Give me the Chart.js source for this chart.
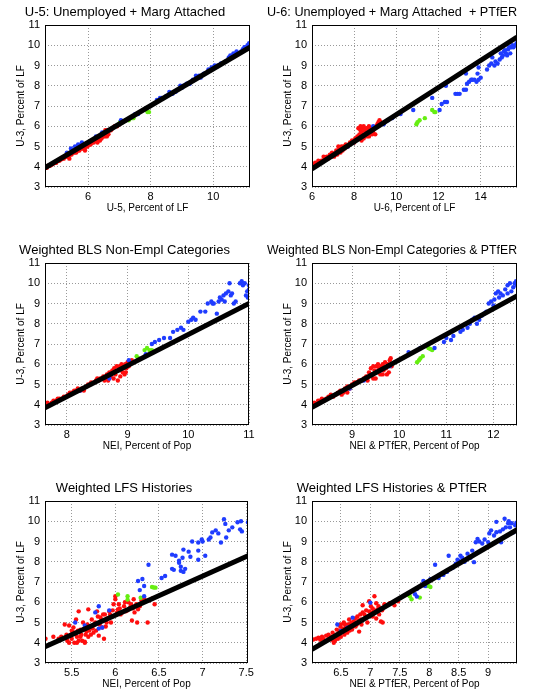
<!DOCTYPE html>
<html>
<head>
<meta charset="utf-8">
<script src="https://cdn.jsdelivr.net/npm/chart.js@4.4.1/dist/chart.umd.min.js"></script>
<style>
  html, body { margin: 0; padding: 0; background: #fff; overflow: hidden; }
  body { width: 547px; height: 694px; position: relative; }
  .panel { position: absolute; }
</style>
</head>
<body>
<div class="panel" style="left:0;top:0"><canvas id="c1" width="294" height="218"></canvas></div>
<div class="panel" style="left:267px;top:0"><canvas id="c2" width="295" height="218"></canvas></div>
<div class="panel" style="left:0;top:238px"><canvas id="c3" width="294" height="218"></canvas></div>
<div class="panel" style="left:267px;top:238px"><canvas id="c4" width="295" height="218"></canvas></div>
<div class="panel" style="left:0;top:476px"><canvas id="c5" width="294" height="218"></canvas></div>
<div class="panel" style="left:267px;top:476px"><canvas id="c6" width="295" height="218"></canvas></div>
<script>

// ---- data, [x, y] pairs; y is U-3 (percent of LF) ----

// U-5
var p1Red = [[4.62,4.0],[4.68,3.95],[4.72,4.05],[4.78,4.05],[4.83,4.1],[4.88,4.15],[4.93,4.2],[4.98,4.2],[5.03,4.3],[5.08,4.3],[5.12,4.35],[5.18,4.4],[5.22,4.4],[5.27,4.5],[5.32,4.5],[5.37,4.5],[5.42,4.6],[5.47,4.6],[5.52,4.7],[5.57,4.7],[5.62,4.7],[5.67,4.8],[5.72,4.8],[5.78,4.9],[5.83,4.9],[5.88,4.9],[5.93,5.0],[5.98,5.0],[6.03,5.1],[6.08,5.1],[6.13,5.2],[6.18,5.2],[6.23,5.3],[6.28,5.3],[6.33,5.4],[6.38,5.3],[6.43,5.4],[6.48,5.5],[6.53,5.5],[6.58,5.6],[6.63,5.8],[6.55,5.8],[6.48,5.6],[6.68,5.8],[6.73,5.8],[6.78,5.9],[6.85,6.0],[6.93,6.0],[7.0,6.1],[6.4,5.4],[6.6,5.5],[6.65,5.6],[6.3,5.2],[5.9,4.8],[5.4,4.4]];
var p1Green = [[7.02,6.2],[7.1,6.2],[7.2,6.3],[7.3,6.3],[7.4,6.4],[7.45,6.4],[7.85,6.8],[7.9,6.7],[7.95,6.7]];
var p1Blue = [[5.32,4.7],[5.45,4.9],[5.58,5.0],[5.68,5.1],[5.8,5.2],[6.25,5.5],[6.45,5.7],[7.05,6.3],[7.5,6.6],[7.6,6.6],[8.2,7.3],[8.3,7.4],[8.35,7.4],[8.5,7.5],[8.7,7.6],[8.8,7.7],[8.95,8.0],[9.05,8.0],[9.15,8.1],[9.25,8.1],[9.35,8.3],[9.45,8.5],[9.55,8.5],[9.6,8.4],[9.7,8.6],[9.85,8.8],[9.95,8.9],[10.05,9.0],[10.15,9.0],[10.25,9.1],[10.4,9.2],[10.5,9.4],[10.55,9.5],[10.65,9.6],[10.75,9.7],[10.8,9.6],[10.9,9.7],[10.95,9.8],[11.0,9.9],[11.05,9.9],[11.1,10.0],[11.15,10.1],[10.0,8.9],[9.0,7.9],[8.6,7.7]];
var p1Fit = [[4.62,3.95],[11.18,9.9]];

// U-6
var p2Red = [[6.0,4.0],[6.05,4.1],[6.15,4.2],[6.2,4.1],[6.3,4.3],[6.35,4.2],[6.45,4.3],[6.55,4.5],[6.6,4.4],[6.7,4.5],[6.75,4.4],[6.85,4.6],[6.9,4.5],[6.95,4.7],[7.05,4.5],[7.1,4.6],[7.15,4.8],[7.2,4.6],[7.25,5.0],[7.3,4.9],[7.35,4.7],[7.4,5.0],[7.45,4.8],[7.5,5.0],[7.55,4.9],[7.6,5.1],[7.7,5.0],[7.8,5.2],[7.9,5.3],[8.0,5.2],[8.05,5.4],[8.15,5.5],[8.2,5.9],[8.25,5.6],[8.3,5.8],[8.3,6.0],[8.35,5.7],[8.4,5.9],[8.45,6.0],[8.5,5.8],[8.55,5.6],[8.6,5.9],[8.65,5.7],[8.7,6.0],[8.75,5.8],[8.8,5.9],[8.85,5.6],[8.9,5.7],[8.95,5.9],[9.0,5.6],[9.05,6.0],[9.1,6.1],[9.15,6.2],[9.2,6.3],[9.25,6.2],[8.45,5.4],[8.35,5.3],[8.6,5.5],[8.9,5.8],[8.7,5.5]];
var p2Green = [[10.95,6.1],[11.0,6.2],[11.1,6.3],[11.35,6.4],[11.7,6.8],[11.8,6.7],[11.85,6.7]];
var p2Blue = [[7.7,5.0],[7.95,5.2],[8.9,6.0],[9.4,6.1],[9.6,6.3],[9.8,6.4],[10.2,6.6],[10.8,6.8],[11.7,7.4],[12.05,6.8],[12.15,7.1],[12.3,7.2],[12.4,7.2],[12.35,8.0],[12.8,7.6],[12.9,7.6],[13.0,7.6],[13.2,7.8],[13.3,7.8],[13.35,8.1],[13.45,8.2],[13.55,8.3],[13.6,8.3],[13.7,8.3],[13.8,8.2],[13.9,8.3],[14.0,8.4],[13.85,8.6],[13.9,8.9],[13.3,8.6],[14.3,8.8],[14.4,9.0],[14.5,9.1],[14.55,9.4],[14.65,9.0],[14.7,9.2],[14.8,9.1],[14.9,9.3],[14.95,9.6],[15.0,9.4],[15.05,9.5],[15.1,9.7],[15.2,9.6],[15.25,9.5],[15.3,9.8],[15.35,9.9],[15.4,9.6],[15.45,9.9],[15.5,10.0],[15.55,9.9],[15.7,10.1],[15.65,10.0],[15.15,9.75]];
var p2Fit = [[6.0,3.9],[15.72,10.4]];

// Weighted BLS non-employment categories
var p3Red = [[7.65,4.0],[7.68,4.1],[7.72,4.0],[7.75,4.1],[7.78,4.2],[7.82,4.2],[7.85,4.3],[7.88,4.3],[7.92,4.3],[7.95,4.4],[7.98,4.4],[8.02,4.5],[8.05,4.6],[8.08,4.6],[8.12,4.7],[8.15,4.7],[8.18,4.8],[8.22,4.7],[8.25,4.8],[8.28,4.7],[8.32,4.9],[8.35,5.0],[8.4,5.1],[8.45,5.1],[8.48,5.2],[8.52,5.2],[8.55,5.3],[8.6,5.4],[8.63,5.3],[8.66,5.5],[8.68,5.2],[8.7,5.6],[8.72,5.4],[8.75,5.7],[8.77,5.3],[8.78,5.8],[8.8,5.5],[8.82,5.9],[8.84,5.2],[8.85,5.7],[8.87,5.9],[8.88,5.4],[8.9,6.0],[8.92,5.6],[8.93,5.8],[8.95,5.5],[8.96,6.0],[8.97,5.6],[8.98,5.8],[9.0,6.1],[9.02,5.9],[9.04,6.0],[9.07,6.2],[9.1,6.1],[8.5,5.3],[8.62,5.2]];
var p3Green = [[9.15,6.4],[9.18,6.3],[9.28,6.7],[9.32,6.8],[9.36,6.7],[9.4,6.7]];
var p3Blue = [[8.22,4.7],[8.7,5.3],[8.72,5.5],[9.02,6.2],[9.3,6.5],[9.4,7.0],[9.45,7.1],[9.52,7.2],[9.6,7.3],[9.7,7.3],[9.75,7.6],[9.82,7.7],[9.88,7.8],[9.92,7.7],[10.0,8.1],[10.05,8.2],[10.08,8.3],[10.12,8.2],[10.2,8.6],[10.28,8.6],[10.32,9.0],[10.38,9.1],[10.42,9.0],[10.47,8.5],[10.5,9.1],[10.55,9.2],[10.58,9.4],[10.62,9.5],[10.66,9.6],[10.68,10.0],[10.7,9.4],[10.72,9.5],[10.75,9.0],[10.78,9.1],[10.85,10.0],[10.88,10.1],[10.9,9.9],[10.93,10.0],[10.95,9.4],[10.97,9.6],[11.0,9.9],[11.0,9.7],[10.98,9.3],[10.6,9.1],[10.4,9.0],[10.52,9.3]];
var p3Fit = [[7.64,3.85],[11.0,9.0]];

// Weighted BLS non-employment categories & PTfER
var p4Red = [[8.15,4.0],[8.2,4.1],[8.23,4.0],[8.28,4.2],[8.32,4.2],[8.36,4.3],[8.4,4.2],[8.45,4.3],[8.5,4.4],[8.55,4.5],[8.6,4.4],[8.65,4.5],[8.7,4.6],[8.75,4.7],[8.78,4.5],[8.82,4.6],[8.85,4.8],[8.9,4.9],[8.95,4.8],[9.0,5.0],[9.05,5.1],[9.1,5.1],[9.15,5.2],[9.2,5.2],[9.25,5.3],[9.3,5.4],[9.33,5.2],[9.36,5.6],[9.4,5.8],[9.42,5.5],[9.45,5.9],[9.48,5.7],[9.5,5.3],[9.52,5.9],[9.55,6.0],[9.58,5.8],[9.6,5.5],[9.62,5.9],[9.65,6.0],[9.67,5.7],[9.7,6.1],[9.72,5.8],[9.74,5.5],[9.76,6.0],[9.78,5.6],[9.8,6.2],[9.82,6.3],[9.84,5.9],[9.55,5.6],[9.45,5.3],[9.65,5.5],[8.9,4.6]];
var p4Green = [[10.38,6.1],[10.42,6.2],[10.45,6.3],[10.5,6.4],[10.62,6.8],[10.66,6.75],[10.7,6.7]];
var p4Blue = [[8.95,4.8],[9.25,5.2],[9.6,5.7],[9.8,5.9],[10.2,6.6],[10.45,6.8],[10.55,6.9],[10.75,6.8],[10.95,7.1],[11.0,7.3],[11.1,7.2],[11.15,7.4],[11.3,7.6],[11.35,7.7],[11.45,7.8],[11.5,8.0],[11.55,8.2],[11.6,8.3],[11.7,8.2],[11.75,8.4],[11.8,8.5],[11.85,8.6],[11.9,9.0],[11.95,9.1],[12.0,8.9],[12.02,9.2],[12.05,9.5],[12.1,9.6],[12.12,9.3],[12.15,9.5],[12.2,9.4],[12.25,9.7],[12.3,9.9],[12.35,10.0],[12.38,9.6],[12.42,9.8],[12.45,10.0],[12.48,10.1],[12.5,9.9],[11.65,8.0],[12.3,9.5]];
var p4Fit = [[8.15,3.87],[12.5,9.37]];

// Weighted LFS histories
var p5Red = [[5.2,4.2],[5.29,4.3],[5.35,4.2],[5.42,4.25],[5.42,4.9],[5.45,4.1],[5.47,4.0],[5.49,4.4],[5.51,4.55],[5.52,4.75],[5.54,4.5],[5.56,4.3],[5.58,4.1],[5.6,4.65],[5.61,4.4],[5.63,5.0],[5.65,4.05],[5.67,4.55],[5.69,4.3],[5.71,4.8],[5.73,5.15],[5.75,4.5],[5.77,5.0],[5.79,5.55],[5.81,4.35],[5.83,5.25],[5.85,4.75],[5.87,4.2],[5.88,5.4],[5.9,5.0],[5.93,5.55],[5.96,5.3],[5.98,5.9],[6.0,6.15],[6.0,6.3],[6.03,5.65],[6.04,5.9],[6.06,5.4],[6.1,5.8],[6.12,5.55],[6.15,6.0],[6.17,5.75],[6.19,5.1],[6.21,6.15],[6.22,5.5],[6.25,5.0],[6.26,5.65],[6.3,6.1],[6.33,6.2],[6.37,5.0],[6.39,6.1],[6.45,5.9],[6.43,6.2],[5.58,5.55],[5.69,5.65],[5.55,5.15],[5.47,4.85],[5.5,4.2],[5.53,4.0],[5.57,4.6],[5.6,4.3],[5.62,4.1],[5.64,4.7],[5.66,4.4],[5.68,4.9],[5.7,4.6],[5.72,4.4],[5.74,4.7],[5.76,4.9],[5.78,4.6],[5.8,5.3],[5.82,4.9],[5.84,5.1],[5.86,5.4],[5.89,4.8],[5.91,5.2],[5.94,5.4],[5.95,5.0],[5.97,5.6],[6.02,5.5],[6.05,5.7],[6.08,5.5],[6.11,6.0],[6.14,5.6],[6.18,5.9],[6.2,5.7],[6.24,5.9],[6.28,5.8],[5.65,4.0],[5.56,4.0],[5.44,4.4],[5.38,4.3],[5.5,4.6]];
var p5Green = [[6.03,6.38],[6.14,6.3],[6.14,6.13],[6.29,6.22],[6.42,6.75],[6.46,6.72],[6.44,6.73]];
var p5Blue = [[5.54,5.0],[5.65,4.85],[5.77,5.5],[5.81,5.8],[5.81,4.7],[5.85,4.75],[5.93,5.6],[6.26,7.05],[6.28,6.6],[6.31,7.15],[6.33,6.3],[6.33,6.8],[6.38,7.85],[6.53,7.2],[6.57,7.3],[6.65,7.65],[6.65,8.35],[6.67,7.6],[6.69,8.3],[6.73,8.05],[6.73,7.95],[6.75,7.75],[6.75,7.55],[6.77,8.2],[6.78,8.6],[6.78,7.5],[6.8,7.65],[6.84,8.5],[6.86,8.25],[6.88,9.0],[6.95,8.95],[6.95,8.55],[6.95,8.1],[6.99,9.1],[7.03,8.3],[7.07,9.1],[7.09,9.2],[7.11,9.45],[7.15,9.55],[7.21,8.95],[7.245,10.1],[7.26,9.87],[7.27,9.2],[7.3,9.55],[7.34,9.7],[7.4,9.95],[7.43,9.6],[7.44,10.0],[7.45,9.5],[7.52,9.95],[7.0,9.0],[7.18,9.4]];
var p5Fit = [[5.194,3.8],[7.52,8.3]];

// Weighted LFS histories & PTfER
var p6Red = [[6.03,4.16],[6.12,4.25],[6.18,4.3],[6.23,4.1],[6.29,4.4],[6.35,4.15],[6.38,4.0],[6.41,4.25],[6.43,4.65],[6.46,4.4],[6.49,4.8],[6.52,4.55],[6.55,5.0],[6.58,4.75],[6.61,4.5],[6.64,5.15],[6.66,4.9],[6.69,4.65],[6.72,5.05],[6.75,4.8],[6.78,5.3],[6.81,4.55],[6.84,5.15],[6.87,5.5],[6.92,5.25],[6.95,5.0],[6.98,5.55],[7.01,5.8],[7.04,5.3],[7.07,6.3],[7.1,5.95],[7.12,5.65],[7.15,5.4],[7.18,5.05],[7.21,5.0],[7.27,5.85],[7.33,5.95],[7.41,5.85],[7.47,6.05],[6.98,6.05],[7.04,5.7],[6.87,5.85],[6.3,4.2],[6.33,4.3],[6.36,4.5],[6.4,4.1],[6.42,4.4],[6.45,4.2],[6.47,4.6],[6.5,4.3],[6.5,4.9],[6.53,4.7],[6.56,4.4],[6.57,4.9],[6.6,4.7],[6.62,4.9],[6.65,4.6],[6.68,5.0],[6.7,4.8],[6.74,5.2],[6.77,4.9],[6.8,5.1],[6.83,5.4],[6.85,4.9],[6.9,5.4],[6.93,5.6],[6.96,5.3],[7.0,5.5],[7.06,5.6],[7.1,5.2],[7.14,5.8],[7.2,5.6],[7.24,5.9],[6.2,4.2],[6.25,4.35],[6.15,4.15],[6.08,4.2]];
var p6Green = [[7.66,6.35],[7.67,6.3],[7.7,6.15],[7.84,6.23],[7.96,6.8],[7.99,6.81],[8.02,6.75]];
var p6Blue = [[6.44,4.9],[6.5,4.58],[6.61,4.74],[6.7,5.24],[7.0,5.98],[7.76,6.4],[7.79,6.28],[7.79,6.65],[7.9,7.05],[7.93,6.8],[8.02,7.14],[8.1,7.85],[8.16,7.2],[8.24,7.35],[8.3,7.5],[8.33,8.3],[8.36,7.65],[8.4,7.7],[8.45,7.9],[8.48,8.1],[8.5,8.05],[8.53,8.3],[8.56,8.2],[8.6,8.0],[8.62,8.1],[8.65,8.4],[8.7,8.2],[8.73,8.55],[8.76,7.98],[8.79,8.96],[8.82,9.13],[8.85,9.0],[8.9,8.9],[8.94,9.1],[9.0,8.97],[9.02,9.4],[9.05,9.55],[9.1,9.3],[9.14,9.46],[9.14,9.97],[9.2,9.5],[9.22,8.96],[9.28,10.12],[9.3,9.7],[9.34,9.9],[9.37,9.7],[9.4,9.9],[9.43,9.46],[9.46,9.8],[9.48,9.93],[9.25,9.6],[9.35,10.0]];
var p6Fit = [[6.01,3.67],[9.49,9.58]];

var titles = [
    'U-5: Unemployed + Marg Attached',
    'U-6: Unemployed + Marg Attached  + PTfER',
    'Weighted BLS Non-Empl Categories',
    'Weighted BLS Non-Empl Categories & PTfER',
    'Weighted LFS Histories',
    'Weighted LFS Histories & PTfER'
];
var xLabels = [
    'U-5, Percent of LF',
    'U-6, Percent of LF',
    'NEI, Percent of Pop',
    'NEI & PTfER, Percent of Pop',
    'NEI, Percent of Pop',
    'NEI & PTfER, Percent of Pop'
];
var yLabel = 'U-3, Percent of LF';

var RED = '#ff0d0d', GREEN = '#66ee11', BLUE = '#1f3cff';
var FONT = '"Liberation Sans", Arial, Helvetica, sans-serif';

function pts(arr) {
    return arr.map(function (p) { return {x: p[0], y: p[1]}; });
}

// matlab style closed box round the axes
var boxPlugin = {
    id: 'box',
    afterDraw: function (chart) {
        var a = chart.chartArea, ctx = chart.ctx;
        ctx.save();
        ctx.strokeStyle = '#000';
        ctx.lineWidth = 1;
        ctx.strokeRect(Math.round(a.left) + 0.5, Math.round(a.top) + 0.5,
            Math.round(a.right - a.left) - 1, Math.round(a.bottom - a.top) - 1);
        ctx.restore();
    }
};

function makeChart(id, i, red, green, blue, fit, xMin, xMax, xStep, padRight) {
    var dot = function (label, data, color) {
        return {label: label, data: pts(data), backgroundColor: color, borderWidth: 0,
            pointRadius: 2.2, pointHoverRadius: 2.2};
    };
    new Chart(document.getElementById(id), {
        type: 'scatter',
        data: {
            datasets: [
                {label: 'fit', data: pts(fit), showLine: true, borderColor: '#000',
                    borderWidth: 5, pointRadius: 0, borderCapStyle: 'butt'},
                dot('blue', blue, BLUE),
                dot('green', green, GREEN),
                dot('red', red, RED)
            ]
        },
        options: {
            responsive: false,
            animation: false,
            layout: {padding: {left: 0, right: padRight, top: 0, bottom: 0}},
            plugins: {
                legend: {display: false},
                tooltip: {enabled: false},
                title: {
                    display: true, text: titles[i], color: '#000',
                    font: {family: FONT, size: 13, weight: 'normal'},
                    padding: {top: 5, bottom: 4.4}
                }
            },
            scales: {
                x: {
                    type: 'linear', min: xMin, max: xMax,
                    afterFit: function (s) { s.height = 31; },
                    ticks: {
                        stepSize: xStep, includeBounds: false, padding: 3, color: '#000',
                        font: {family: FONT, size: 11},
                        callback: function (v) { return '' + Math.round(v * 100) / 100; }
                    },
                    grid: {color: '#999', drawTicks: false},
                    border: {display: false, dash: [1, 2]},
                    title: {display: true, text: xLabels[i], color: '#000',
                        font: {family: FONT, size: 10}, padding: {top: 0, bottom: 4}}
                },
                y: {
                    type: 'linear', min: 3, max: 11,
                    afterFit: function (s) { s.width = 45; },
                    ticks: {stepSize: 1, padding: 5, color: '#000', font: {family: FONT, size: 11}},
                    grid: {color: '#999', drawTicks: false},
                    border: {display: false, dash: [1, 2]},
                    title: {display: true, text: yLabel, color: '#000',
                        font: {family: FONT, size: 10}, padding: {top: 15, bottom: 0}}
                }
            }
        },
        plugins: [boxPlugin]
    });
}

makeChart('c1', 0, p1Red, p1Green, p1Blue, p1Fit, 4.62, 11.18, 2, 44);
makeChart('c2', 1, p2Red, p2Green, p2Blue, p2Fit, 6, 15.72, 2, 45);
makeChart('c3', 2, p3Red, p3Green, p3Blue, p3Fit, 7.64, 11, 1, 45);
makeChart('c4', 3, p4Red, p4Green, p4Blue, p4Fit, 8.15, 12.5, 1, 45);
makeChart('c5', 4, p5Red, p5Green, p5Blue, p5Fit, 5.194, 7.52, 0.5, 46);
makeChart('c6', 5, p6Red, p6Green, p6Blue, p6Fit, 6.01, 9.49, 0.5, 45);
</script>
</body>
</html>
